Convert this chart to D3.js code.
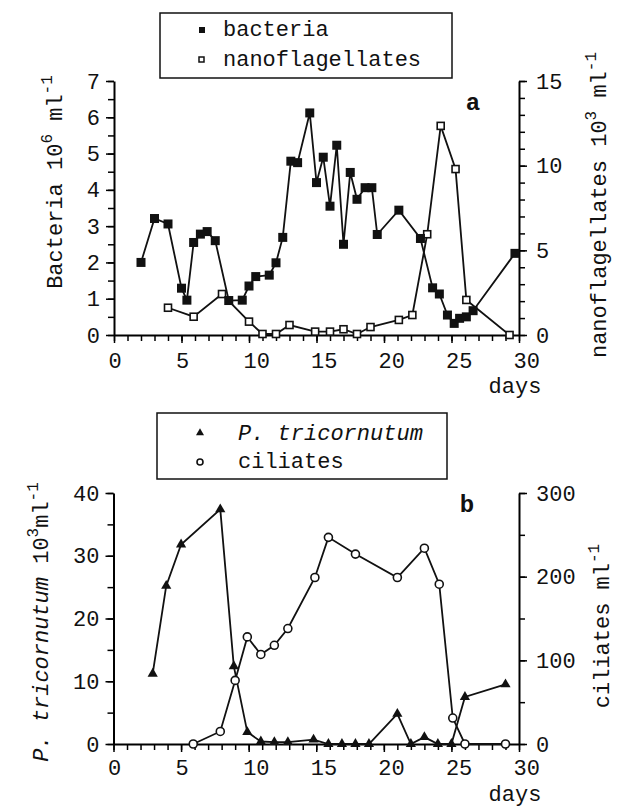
<!DOCTYPE html>
<html>
<head>
<meta charset="utf-8">
<script src="https://cdn.jsdelivr.net/npm/d3@7"></script>
<style>
  body { margin: 0; background: #fff; }
  text { font-family: "Liberation Mono", "DejaVu Sans Mono", monospace; fill: #111; }
</style>
</head>
<body>
<script>
// panel a
const bactDays = [2, 3, 4, 5, 5.4, 5.9, 6.4, 6.9, 7.5, 8.5, 9.5, 10, 10.5, 11.5, 12, 12.5, 13.1, 13.6, 14.5, 15,
  15.5, 16, 16.5, 17, 17.5, 18, 18.6, 19.1, 19.5, 21.1, 22.7, 23.6, 24.1, 24.7, 25.2, 25.6, 26.1, 26.6, 29.7];
const bactVals = [2.0, 3.21, 3.06, 1.29, 0.96, 2.55, 2.78, 2.85, 2.6, 0.95, 0.96, 1.35, 1.61, 1.65, 1.99, 2.69, 4.79, 4.75, 6.12, 4.2,
  4.9, 3.55, 5.23, 2.5, 4.48, 3.74, 4.06, 4.06, 2.77, 3.44, 2.66, 1.3, 1.13, 0.55, 0.32, 0.46, 0.5, 0.67, 2.25];
const nanoDays = [4, 5.9, 8, 10, 11, 12, 13, 14.9, 16, 17, 18, 19, 21.1, 22.1, 23.2, 24.2, 25.3, 26.1, 29.3];
const nanoVals = [1.61, 1.08, 2.42, 0.79, 0.06, 0.06, 0.59, 0.2, 0.2, 0.34, 0.06, 0.47, 0.89, 1.18, 5.95, 12.35, 9.8, 2.07, 0];

// panel b
const phaeoDays = [2.9, 3.9, 5, 7.9, 8.9, 9.9, 10.9, 11.9, 12.9, 14.8, 15.9, 16.9, 17.9, 18.9, 21, 22, 23, 24, 25, 26, 29];
const phaeoVals = [11.2, 25.2, 31.8, 37.4, 12.4, 1.9, 0.4, 0.3, 0.3, 0.7, 0, 0, 0, 0, 4.8, 0, 1.1, 0, 0, 7.5, 9.5];
const ciliDays = [5.9, 7.9, 9, 9.9, 10.9, 11.9, 12.9, 14.9, 15.9, 17.9, 21, 23, 24.1, 25.1, 26, 29];
const ciliVals = [0, 15, 76, 128, 107, 118, 138, 199, 247, 227, 199, 234, 191, 31, 0, 0];

const xTicks = [0, 5, 10, 15, 20, 25, 30];
const bactTicks = [0, 1, 2, 3, 4, 5, 6, 7];
const nanoTicks = [0, 5, 10, 15];
const phaeoTicks = [0, 10, 20, 30, 40];
const ciliTicks = [0, 100, 200, 300];

const W = 633, H = 808;
const svg = d3.select("body").append("svg")
    .attr("width", W)
    .attr("height", H);

const zip = (a, b) => a.map((d, i) => [d, b[i]]);

function panel(o) {
    const g = svg.append("g");
    const x = d3.scaleLinear().domain([0, 30]).range([o.left, o.right]);
    const yL = d3.scaleLinear().domain(o.yLdom).range([o.bottom, o.top]);
    const yR = d3.scaleLinear().domain(o.yRdom).range([o.bottom, o.top]);

    // minor ticks
    const minor = (axis, scale, vals, tr) => g.append("g")
        .attr("transform", tr)
        .call(axis(scale).tickValues(vals).tickSize(6).tickFormat("").tickSizeOuter(0))
        .call(a => a.select(".domain").remove())
        .selectAll("line").attr("stroke-width", 1.5);

    minor(d3.axisBottom, x, d3.range(0, 31), `translate(0,${o.bottom})`);
    minor(d3.axisLeft, yL, o.yLminor, `translate(${o.left},0)`);
    minor(d3.axisRight, yR, o.yRminor, `translate(${o.right},0)`);

    const major = (axis, scale, vals, tr) => g.append("g")
        .attr("transform", tr)
        .call(axis(scale).tickValues(vals).tickFormat(d3.format("d"))
            .tickSize(8).tickPadding(6).tickSizeOuter(0))
        .call(a => a.select(".domain").attr("stroke-width", 2))
        .call(a => a.selectAll("line").attr("stroke-width", 1.5))
        .call(a => a.selectAll("text").attr("font-size", 22).attr("font-family", "Liberation Mono"));

    major(d3.axisBottom, x, xTicks, `translate(0,${o.bottom})`)
        .selectAll("text").attr("text-anchor", "start").attr("dx", -6).attr("dy", o.xDy);
    major(d3.axisLeft, yL, o.yLticks, `translate(${o.left},0)`);
    major(d3.axisRight, yR, o.yRticks, `translate(${o.right},0)`)
        .selectAll("text").attr("dx", 3);

    g.append("text")
        .attr("x", o.right - 4).attr("y", o.bottom + o.daysDy)
        .attr("text-anchor", "middle").attr("font-size", 22)
        .text("days");

    g.append("text")
        .attr("x", o.letterX).attr("y", o.letterY)
        .attr("text-anchor", "middle").attr("font-size", 24).attr("font-weight", "bold")
        .text(o.letter);

    const line = (ys) => d3.line().x(d => x(d[0])).y(d => ys(d[1]));
    return { g, x, yL, yR, line };
}

function ylabel(parts, xPos, yPos) {
    const t = svg.append("text")
        .attr("transform", `translate(${xPos},${yPos}) rotate(-90)`)
        .attr("text-anchor", "middle")
        .attr("font-size", 22);
    parts.forEach(p => {
        const s = t.append("tspan").text(p.t);
        if (p.sup) s.attr("font-size", 16).attr("dy", -10);
        if (p.down) s.attr("dy", 10);
        if (p.it) s.attr("font-style", "italic");
    });
}

// ---------- panel a ----------
const a = panel({
    left: 114, right: 519, top: 81, bottom: 335,
    yLdom: [0, 7], yRdom: [0, 15],
    yLticks: bactTicks, yRticks: nanoTicks,
    yLminor: d3.range(0, 7.01, 0.5), yRminor: d3.range(0, 16),
    letter: "a", letterX: 473, letterY: 110, daysDy: 58, xDy: "0.85em"
});

a.g.append("path")
    .datum(zip(nanoDays, nanoVals))
    .attr("fill", "none").attr("stroke", "#111").attr("stroke-width", 1.8)
    .attr("d", a.line(a.yR));
a.g.append("path")
    .datum(zip(bactDays, bactVals))
    .attr("fill", "none").attr("stroke", "#111").attr("stroke-width", 1.8)
    .attr("d", a.line(a.yL));

a.g.selectAll(".nano")
    .data(zip(nanoDays, nanoVals))
    .join("rect")
    .attr("x", d => a.x(d[0]) - 3.5).attr("y", d => a.yR(d[1]) - 3.5)
    .attr("width", 7).attr("height", 7)
    .attr("fill", "#fff").attr("stroke", "#111").attr("stroke-width", 1.6);
a.g.selectAll(".bact")
    .data(zip(bactDays, bactVals))
    .join("rect")
    .attr("x", d => a.x(d[0]) - 4.5).attr("y", d => a.yL(d[1]) - 4.5)
    .attr("width", 9).attr("height", 9)
    .attr("fill", "#111");

ylabel([{ t: "Bacteria 10" }, { t: "6", sup: true }, { t: " ml", down: true }, { t: "-1", sup: true }], 62, 182);
ylabel([{ t: "nanoflagellates 10" }, { t: "3", sup: true }, { t: " ml", down: true }, { t: "-1", sup: true }], 606, 205);

// legend a
svg.append("rect").attr("x", 160).attr("y", 13).attr("width", 292).attr("height", 65)
    .attr("fill", "#fff").attr("stroke", "#111").attr("stroke-width", 1.5);
svg.append("rect").attr("x", 199).attr("y", 27).attr("width", 6).attr("height", 6).attr("fill", "#111");
svg.append("rect").attr("x", 199).attr("y", 57).attr("width", 5).attr("height", 5)
    .attr("fill", "#fff").attr("stroke", "#111").attr("stroke-width", 1.5);
svg.append("text").attr("x", 223).attr("y", 36).attr("font-size", 22).text("bacteria");
svg.append("text").attr("x", 223).attr("y", 66).attr("font-size", 22).text("nanoflagellates");

// ---------- panel b ----------
const b = panel({
    left: 113.5, right: 519, top: 493, bottom: 744,
    yLdom: [0, 40], yRdom: [0, 300],
    yLticks: phaeoTicks, yRticks: ciliTicks,
    yLminor: d3.range(0, 41, 5), yRminor: d3.range(0, 301, 50),
    letter: "b", letterX: 467, letterY: 512, daysDy: 57, xDy: "0.78em"
});

b.g.append("path")
    .datum(zip(ciliDays, ciliVals))
    .attr("fill", "none").attr("stroke", "#111").attr("stroke-width", 1.8)
    .attr("d", b.line(b.yR));
b.g.append("path")
    .datum(zip(phaeoDays, phaeoVals))
    .attr("fill", "none").attr("stroke", "#111").attr("stroke-width", 1.8)
    .attr("d", b.line(b.yL));

b.g.selectAll(".cili")
    .data(zip(ciliDays, ciliVals))
    .join("circle")
    .attr("cx", d => b.x(d[0])).attr("cy", d => b.yR(d[1])).attr("r", 4)
    .attr("fill", "#fff").attr("stroke", "#111").attr("stroke-width", 1.6);
const tri = d3.symbol().type(d3.symbolTriangle).size(45);
b.g.selectAll(".phaeo")
    .data(zip(phaeoDays, phaeoVals))
    .join("path")
    .attr("transform", d => `translate(${b.x(d[0])},${b.yL(d[1])})`)
    .attr("d", tri)
    .attr("fill", "#111");

ylabel([{ t: "P. tricornutum", it: true }, { t: " 10" }, { t: "3", sup: true }, { t: "ml", down: true }, { t: "-1", sup: true }], 48, 622);
ylabel([{ t: "ciliates ml" }, { t: "-1", sup: true }], 609, 626);

// legend b
svg.append("rect").attr("x", 157).attr("y", 413).attr("width", 290).attr("height", 66)
    .attr("fill", "#fff").attr("stroke", "#111").attr("stroke-width", 1.5);
svg.append("path").attr("transform", "translate(200,433)")
    .attr("d", d3.symbol().type(d3.symbolTriangle).size(28)).attr("fill", "#111");
svg.append("circle").attr("cx", 200).attr("cy", 462).attr("r", 3)
    .attr("fill", "#fff").attr("stroke", "#111").attr("stroke-width", 1.6);
svg.append("text").attr("x", 238).attr("y", 440).attr("font-size", 22).attr("font-style", "italic").text("P. tricornutum");
svg.append("text").attr("x", 238).attr("y", 468).attr("font-size", 22).text("ciliates");
</script>
</body>
</html>
